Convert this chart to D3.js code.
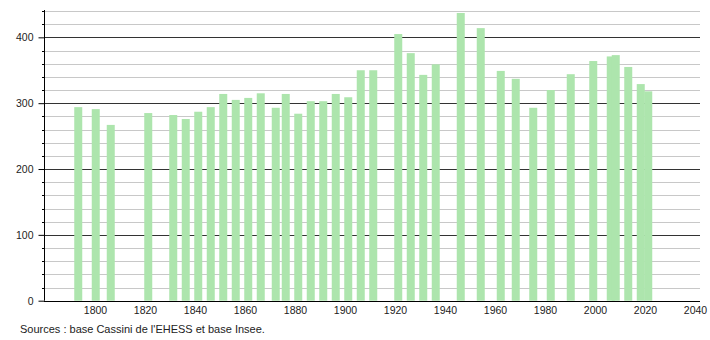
<!DOCTYPE html>
<html>
<head>
<meta charset="utf-8">
<script src="https://cdn.jsdelivr.net/npm/d3@7"></script>
<style>
  body { margin: 0; background: #fff; }
  svg text { font-family: "Liberation Sans", Arial, sans-serif; fill: #222; }
</style>
</head>
<body>
<div id="chart"></div>
<script>
// census years and population
const years = [1793, 1800, 1806, 1821, 1831, 1836, 1841, 1846, 1851, 1856, 1861, 1866, 1872, 1876,
  1881, 1886, 1891, 1896, 1901, 1906, 1911, 1921, 1926, 1931, 1936, 1946, 1954, 1962, 1968, 1975,
  1982, 1990, 1999, 2006, 2008, 2013, 2018, 2021];
const population = [294, 291, 267, 285, 282, 276, 287, 294, 314, 305, 308, 315, 293, 314,
  284, 303, 303, 314, 309, 350, 350, 405, 376, 343, 359, 437, 414, 349, 337, 293,
  320, 344, 364, 371, 373, 355, 329, 318];
const xTicks = [1800, 1820, 1840, 1860, 1880, 1900, 1920, 1940, 1960, 1980, 2000, 2020, 2040];
const yTicks = [0, 100, 200, 300, 400];
const source = "Sources : base Cassini de l'EHESS et base Insee.";

const width = 710, height = 340;
const plotLeft = 44, plotRight = 700, plotTop = 11, plotBottom = 300.7;

const svg = d3.select("#chart").append("svg")
  .attr("width", width)
  .attr("height", height);

const x = d3.scaleLinear().domain([1779.6, 2042]).range([plotLeft, plotRight]);
const y = d3.scaleLinear().domain([0, 440]).range([plotBottom, plotTop]);

// minor grid every 20
const minor = d3.range(20, 441, 20).filter(v => v % 100 != 0);
svg.append("g").selectAll("line")
  .data(minor)
  .enter().append("line")
  .attr("x1", plotLeft).attr("x2", plotRight)
  .attr("y1", d => Math.round(y(d)) + 0.5)
  .attr("y2", d => Math.round(y(d)) + 0.5)
  .attr("stroke", "#c8c8c8")
  .attr("stroke-width", 1);

svg.append("g").selectAll("line")
  .data(yTicks.filter(v => v > 0))
  .enter().append("line")
  .attr("x1", plotLeft).attr("x2", plotRight)
  .attr("y1", d => Math.round(y(d)) + 0.5)
  .attr("y2", d => Math.round(y(d)) + 0.5)
  .attr("stroke", "#333")
  .attr("stroke-width", 1);

// bars
const data = years.map((yr, i) => ({ year: yr, value: population[i] }));
svg.append("g").selectAll("rect")
  .data(data)
  .enter().append("rect")
  .attr("x", d => x(d.year + 0.3) - 4)
  .attr("width", 8)
  .attr("y", d => y(d.value))
  .attr("height", d => y(0) - y(d.value))
  .attr("fill", "#ade5ad");

// y axis with major + minor ticks
const yAxis = d3.axisLeft(y).tickValues(yTicks).tickSize(6).tickPadding(5);
const gy = svg.append("g")
  .attr("transform", `translate(${plotLeft + 0.5},0)`)
  .call(yAxis);
gy.select(".domain").attr("stroke", "#000").attr("d", `M0,${plotTop - 1}V${plotBottom}`);
gy.selectAll(".tick line").attr("stroke", "#000");
gy.selectAll(".tick text").attr("font-size", 10.5).attr("font-family", "Liberation Sans, Arial, sans-serif").attr("fill", "#222");

svg.append("g").selectAll("line")
  .data(minor)
  .enter().append("line")
  .attr("x1", plotLeft - 2).attr("x2", plotLeft)
  .attr("y1", d => Math.round(y(d)) + 0.5)
  .attr("y2", d => Math.round(y(d)) + 0.5)
  .attr("stroke", "#000");

// x axis, labels only
const xAxis = d3.axisBottom(x).tickValues(xTicks).tickFormat(d3.format("d")).tickSize(0).tickPadding(5);
const gx = svg.append("g")
  .attr("transform", `translate(0,${Math.round(plotBottom) + 0.5})`)
  .call(xAxis);
gx.select(".domain").attr("stroke", "#000").attr("d", `M${plotLeft},0H${plotRight}`);
gx.selectAll(".tick text").attr("font-size", 10.5).attr("font-family", "Liberation Sans, Arial, sans-serif").attr("fill", "#222");

svg.append("text")
  .attr("x", 20)
  .attr("y", 333)
  .attr("font-size", 11)
  .text(source);
</script>
</body>
</html>
